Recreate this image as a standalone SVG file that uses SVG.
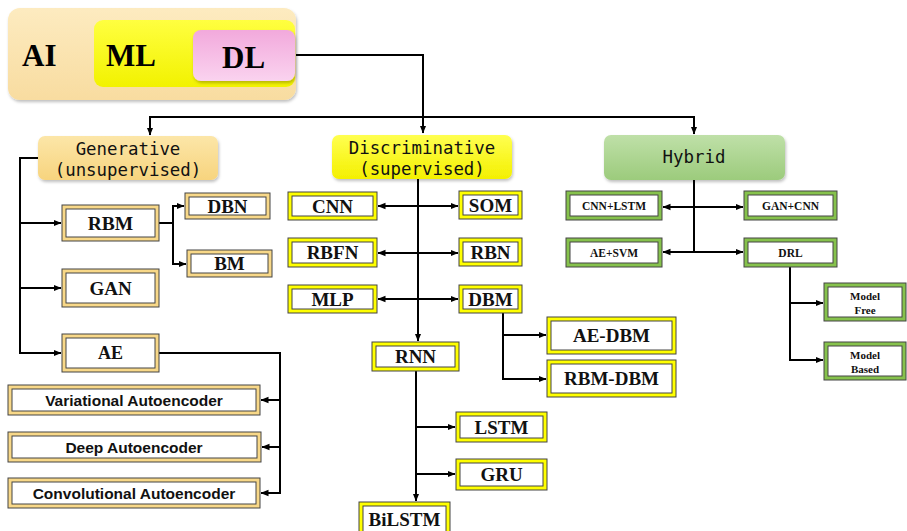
<svg xmlns="http://www.w3.org/2000/svg" width="907" height="531" viewBox="0 0 907 531">
<defs>
<linearGradient id="gAI" x1="0" y1="0" x2="0" y2="1"><stop offset="0" stop-color="#fdebc0"/><stop offset="1" stop-color="#f8dca0"/></linearGradient>
<linearGradient id="gML" x1="0" y1="0" x2="0" y2="1"><stop offset="0" stop-color="#ffff40"/><stop offset="1" stop-color="#f2f200"/></linearGradient>
<linearGradient id="gDL" x1="0" y1="0" x2="0" y2="1"><stop offset="0" stop-color="#f2a9dc"/><stop offset="1" stop-color="#fad3ef"/></linearGradient>
<linearGradient id="gGen" x1="0" y1="0" x2="0" y2="1"><stop offset="0" stop-color="#fce6a8"/><stop offset="1" stop-color="#f7d47e"/></linearGradient>
<linearGradient id="gDis" x1="0" y1="0" x2="0" y2="1"><stop offset="0" stop-color="#ffff50"/><stop offset="1" stop-color="#f4f000"/></linearGradient>
<linearGradient id="gHyb" x1="0" y1="0" x2="0" y2="1"><stop offset="0" stop-color="#bfe0a8"/><stop offset="1" stop-color="#9ccb7c"/></linearGradient>
<filter id="sh" x="-10%" y="-10%" width="130%" height="140%"><feDropShadow dx="1" dy="2" stdDeviation="1.5" flood-color="#000" flood-opacity="0.25"/></filter>
<marker id="ah" viewBox="0 0 8 8" refX="7.5" refY="4" markerWidth="8" markerHeight="8" markerUnits="userSpaceOnUse" orient="auto-start-reverse"><path d="M0,0.8 L8,4 L0,7.2 Z" fill="#000"/></marker>
</defs>
<style>
.c{fill:none;stroke:#000;stroke-width:2}
.a{marker-end:url(#ah)}
.b{marker-start:url(#ah);marker-end:url(#ah)}
.ot{stroke:#444;stroke-width:1}
.tan{fill:#f8d888}
.yel{fill:#ffff00}
.grn{fill:#86c24c}
.in{fill:#fff;stroke:#444;stroke-width:1}
.tr{font-family:"Liberation Serif","Times New Roman",serif;font-weight:bold;fill:#111;text-anchor:middle}
.ts{font-family:"Liberation Sans",Arial,sans-serif;font-weight:bold;fill:#111;text-anchor:middle;font-size:15.5px}
.tm{font-family:"DejaVu Sans Mono","Liberation Mono",monospace;fill:#111;text-anchor:middle;font-size:17.4px}
.big{font-family:"Liberation Serif","Times New Roman",serif;font-weight:bold;fill:#000;font-size:31px}
</style>

<g id="ai-ml-dl">
<rect x="8" y="8" width="288" height="92" rx="12" fill="url(#gAI)" filter="url(#sh)"/>
<rect x="94" y="20" width="201" height="67" rx="9" fill="url(#gML)"/>
<rect x="193" y="30" width="102" height="51" rx="8" fill="url(#gDL)" filter="url(#sh)"/>
<text class="big" x="22" y="66">AI</text>
<text class="big" x="106" y="66">ML</text>
<text class="big" x="222" y="68">DL</text>
</g>

<g id="connectors">
<path class="c a" d="M296,55 H423 V133"/>
<path class="c a" d="M423,117 H150 V135"/>
<path class="c a" d="M423,117 H694 V134"/>
<path class="c a" d="M38,158 H20 V353 H61"/>
<path class="c a" d="M20,223 H61"/>
<path class="c a" d="M20,288 H61"/>
<path class="c a" d="M159,223 H173 V206 H184"/>
<path class="c a" d="M173,223 V264 H186"/>
<path class="c a" d="M159,353 H280 V493 H261"/>
<path class="c a" d="M280,400 H261"/>
<path class="c a" d="M280,447 H262"/>
<path class="c a" d="M418,179 V341"/>
<path class="c b" d="M378,206 H458"/>
<path class="c b" d="M378,253 H458"/>
<path class="c b" d="M378,299 H458"/>
<path class="c a" d="M503,313 V379 H546"/>
<path class="c a" d="M503,335 H546"/>
<path class="c a" d="M416,371 V501"/>
<path class="c a" d="M416,427 H455"/>
<path class="c a" d="M416,474 H455"/>
<path class="c" d="M694,180 V252"/>
<path class="c b" d="M663,207 H743"/>
<path class="c b" d="M663,252 H743"/>
<path class="c a" d="M790,267 V360 H823"/>
<path class="c a" d="M790,303 H823"/>
</g>

<g id="generative">
<rect x="38" y="136" width="180" height="44" rx="7" fill="url(#gGen)" filter="url(#sh)"/>
<text class="tm" x="128" y="155">Generative</text>
<text class="tm" x="128" y="176">(unsupervised)</text>
</g>
<g id="discriminative">
<rect x="332" y="135" width="180" height="44" rx="7" fill="url(#gDis)" filter="url(#sh)"/>
<text class="tm" x="422" y="154">Discriminative</text>
<text class="tm" x="422" y="175">(supervised)</text>
</g>
<g id="hybrid">
<rect x="604" y="135" width="181" height="45" rx="7" fill="url(#gHyb)" filter="url(#sh)"/>
<text class="tm" x="694" y="163">Hybrid</text>
</g>

<g id="rbm"><rect class="ot tan" x="62" y="205" width="97" height="36"/><rect class="in" x="66" y="209" width="89" height="28"/><text class="tr" x="110.5" y="230" font-size="19.5">RBM</text></g>
<g id="dbn"><rect class="ot tan" x="185" y="193" width="85" height="26"/><rect class="in" x="189" y="197" width="77" height="18"/><text class="tr" x="227.5" y="213" font-size="19">DBN</text></g>
<g id="bm"><rect class="ot tan" x="187" y="250" width="85" height="27"/><rect class="in" x="191" y="254" width="77" height="19"/><text class="tr" x="229.5" y="270" font-size="19">BM</text></g>
<g id="gan"><rect class="ot tan" x="62" y="269" width="97" height="38"/><rect class="in" x="66" y="273" width="89" height="30"/><text class="tr" x="110.5" y="295" font-size="19">GAN</text></g>
<g id="ae"><rect class="ot tan" x="62" y="334" width="97" height="38"/><rect class="in" x="66" y="338" width="89" height="30"/><text class="tr" x="110.5" y="359" font-size="18">AE</text></g>
<g id="vae"><rect class="ot tan" x="8" y="385" width="252" height="30"/><rect class="in" x="12" y="389" width="244" height="22"/><text class="ts" x="134" y="406">Variational Autoencoder</text></g>
<g id="dae"><rect class="ot tan" x="8" y="432" width="253" height="30"/><rect class="in" x="12" y="436" width="245" height="22"/><text class="ts" x="134" y="453">Deep Autoencoder</text></g>
<g id="cae"><rect class="ot tan" x="8" y="478" width="252" height="30"/><rect class="in" x="12" y="482" width="244" height="22"/><text class="ts" x="134" y="499">Convolutional Autoencoder</text></g>

<g id="cnn"><rect class="ot yel" x="288" y="192" width="89" height="28"/><rect class="in" x="292" y="196" width="81" height="20"/><text class="tr" x="332.5" y="213" font-size="19">CNN</text></g>
<g id="som"><rect class="ot yel" x="459" y="191" width="63" height="28"/><rect class="in" x="463" y="195" width="55" height="20"/><text class="tr" x="490.5" y="212" font-size="19">SOM</text></g>
<g id="rbfn"><rect class="ot yel" x="288" y="238" width="89" height="29"/><rect class="in" x="292" y="242" width="81" height="21"/><text class="tr" x="332.5" y="259" font-size="19">RBFN</text></g>
<g id="rbn"><rect class="ot yel" x="459" y="238" width="63" height="28"/><rect class="in" x="463" y="242" width="55" height="20"/><text class="tr" x="490.5" y="259" font-size="19">RBN</text></g>
<g id="mlp"><rect class="ot yel" x="288" y="285" width="89" height="28"/><rect class="in" x="292" y="289" width="81" height="20"/><text class="tr" x="332.5" y="306" font-size="19">MLP</text></g>
<g id="dbm"><rect class="ot yel" x="459" y="285" width="63" height="28"/><rect class="in" x="463" y="289" width="55" height="20"/><text class="tr" x="490.5" y="306" font-size="19">DBM</text></g>
<g id="ae-dbm"><rect class="ot yel" x="547" y="317" width="129" height="37"/><rect class="in" x="551" y="321" width="121" height="29"/><text class="tr" x="611.5" y="342" font-size="19">AE-DBM</text></g>
<g id="rbm-dbm"><rect class="ot yel" x="547" y="360" width="129" height="37"/><rect class="in" x="551" y="364" width="121" height="29"/><text class="tr" x="611.5" y="385" font-size="19">RBM-DBM</text></g>
<g id="rnn"><rect class="ot yel" x="372" y="342" width="87" height="29"/><rect class="in" x="376" y="346" width="79" height="21"/><text class="tr" x="415.5" y="363" font-size="19">RNN</text></g>
<g id="lstm"><rect class="ot yel" x="456" y="412" width="91" height="30"/><rect class="in" x="460" y="416" width="83" height="22"/><text class="tr" x="501.5" y="434" font-size="19">LSTM</text></g>
<g id="gru"><rect class="ot yel" x="456" y="459" width="91" height="31"/><rect class="in" x="460" y="463" width="83" height="23"/><text class="tr" x="501.5" y="481" font-size="19">GRU</text></g>
<g id="bilstm"><rect class="ot yel" x="359" y="502" width="91" height="34"/><rect class="in" x="363" y="506" width="83" height="30"/><text class="tr" x="404.5" y="526" font-size="19">BiLSTM</text></g>

<g id="cnn-lstm"><rect class="ot grn" x="566" y="191" width="96" height="29"/><rect class="in" x="570" y="195" width="88" height="21"/><text class="tr" x="614" y="210" font-size="11.5">CNN+LSTM</text></g>
<g id="gan-cnn"><rect class="ot grn" x="744" y="191" width="93" height="29"/><rect class="in" x="748" y="195" width="85" height="21"/><text class="tr" x="790.5" y="210" font-size="11.5">GAN+CNN</text></g>
<g id="ae-svm"><rect class="ot grn" x="566" y="238" width="96" height="29"/><rect class="in" x="570" y="242" width="88" height="21"/><text class="tr" x="614" y="257" font-size="11.5">AE+SVM</text></g>
<g id="drl"><rect class="ot grn" x="744" y="238" width="93" height="29"/><rect class="in" x="748" y="242" width="85" height="21"/><text class="tr" x="790.5" y="257" font-size="11.5">DRL</text></g>
<g id="model-free"><rect class="ot grn" x="824" y="283" width="82" height="38"/><rect class="in" x="828" y="287" width="74" height="30"/><text class="tr" x="865" y="300" font-size="11">Model</text><text class="tr" x="865" y="314" font-size="11">Free</text></g>
<g id="model-based"><rect class="ot grn" x="824" y="342" width="82" height="38"/><rect class="in" x="828" y="346" width="74" height="30"/><text class="tr" x="865" y="359" font-size="11">Model</text><text class="tr" x="865" y="373" font-size="11">Based</text></g>
</svg>
